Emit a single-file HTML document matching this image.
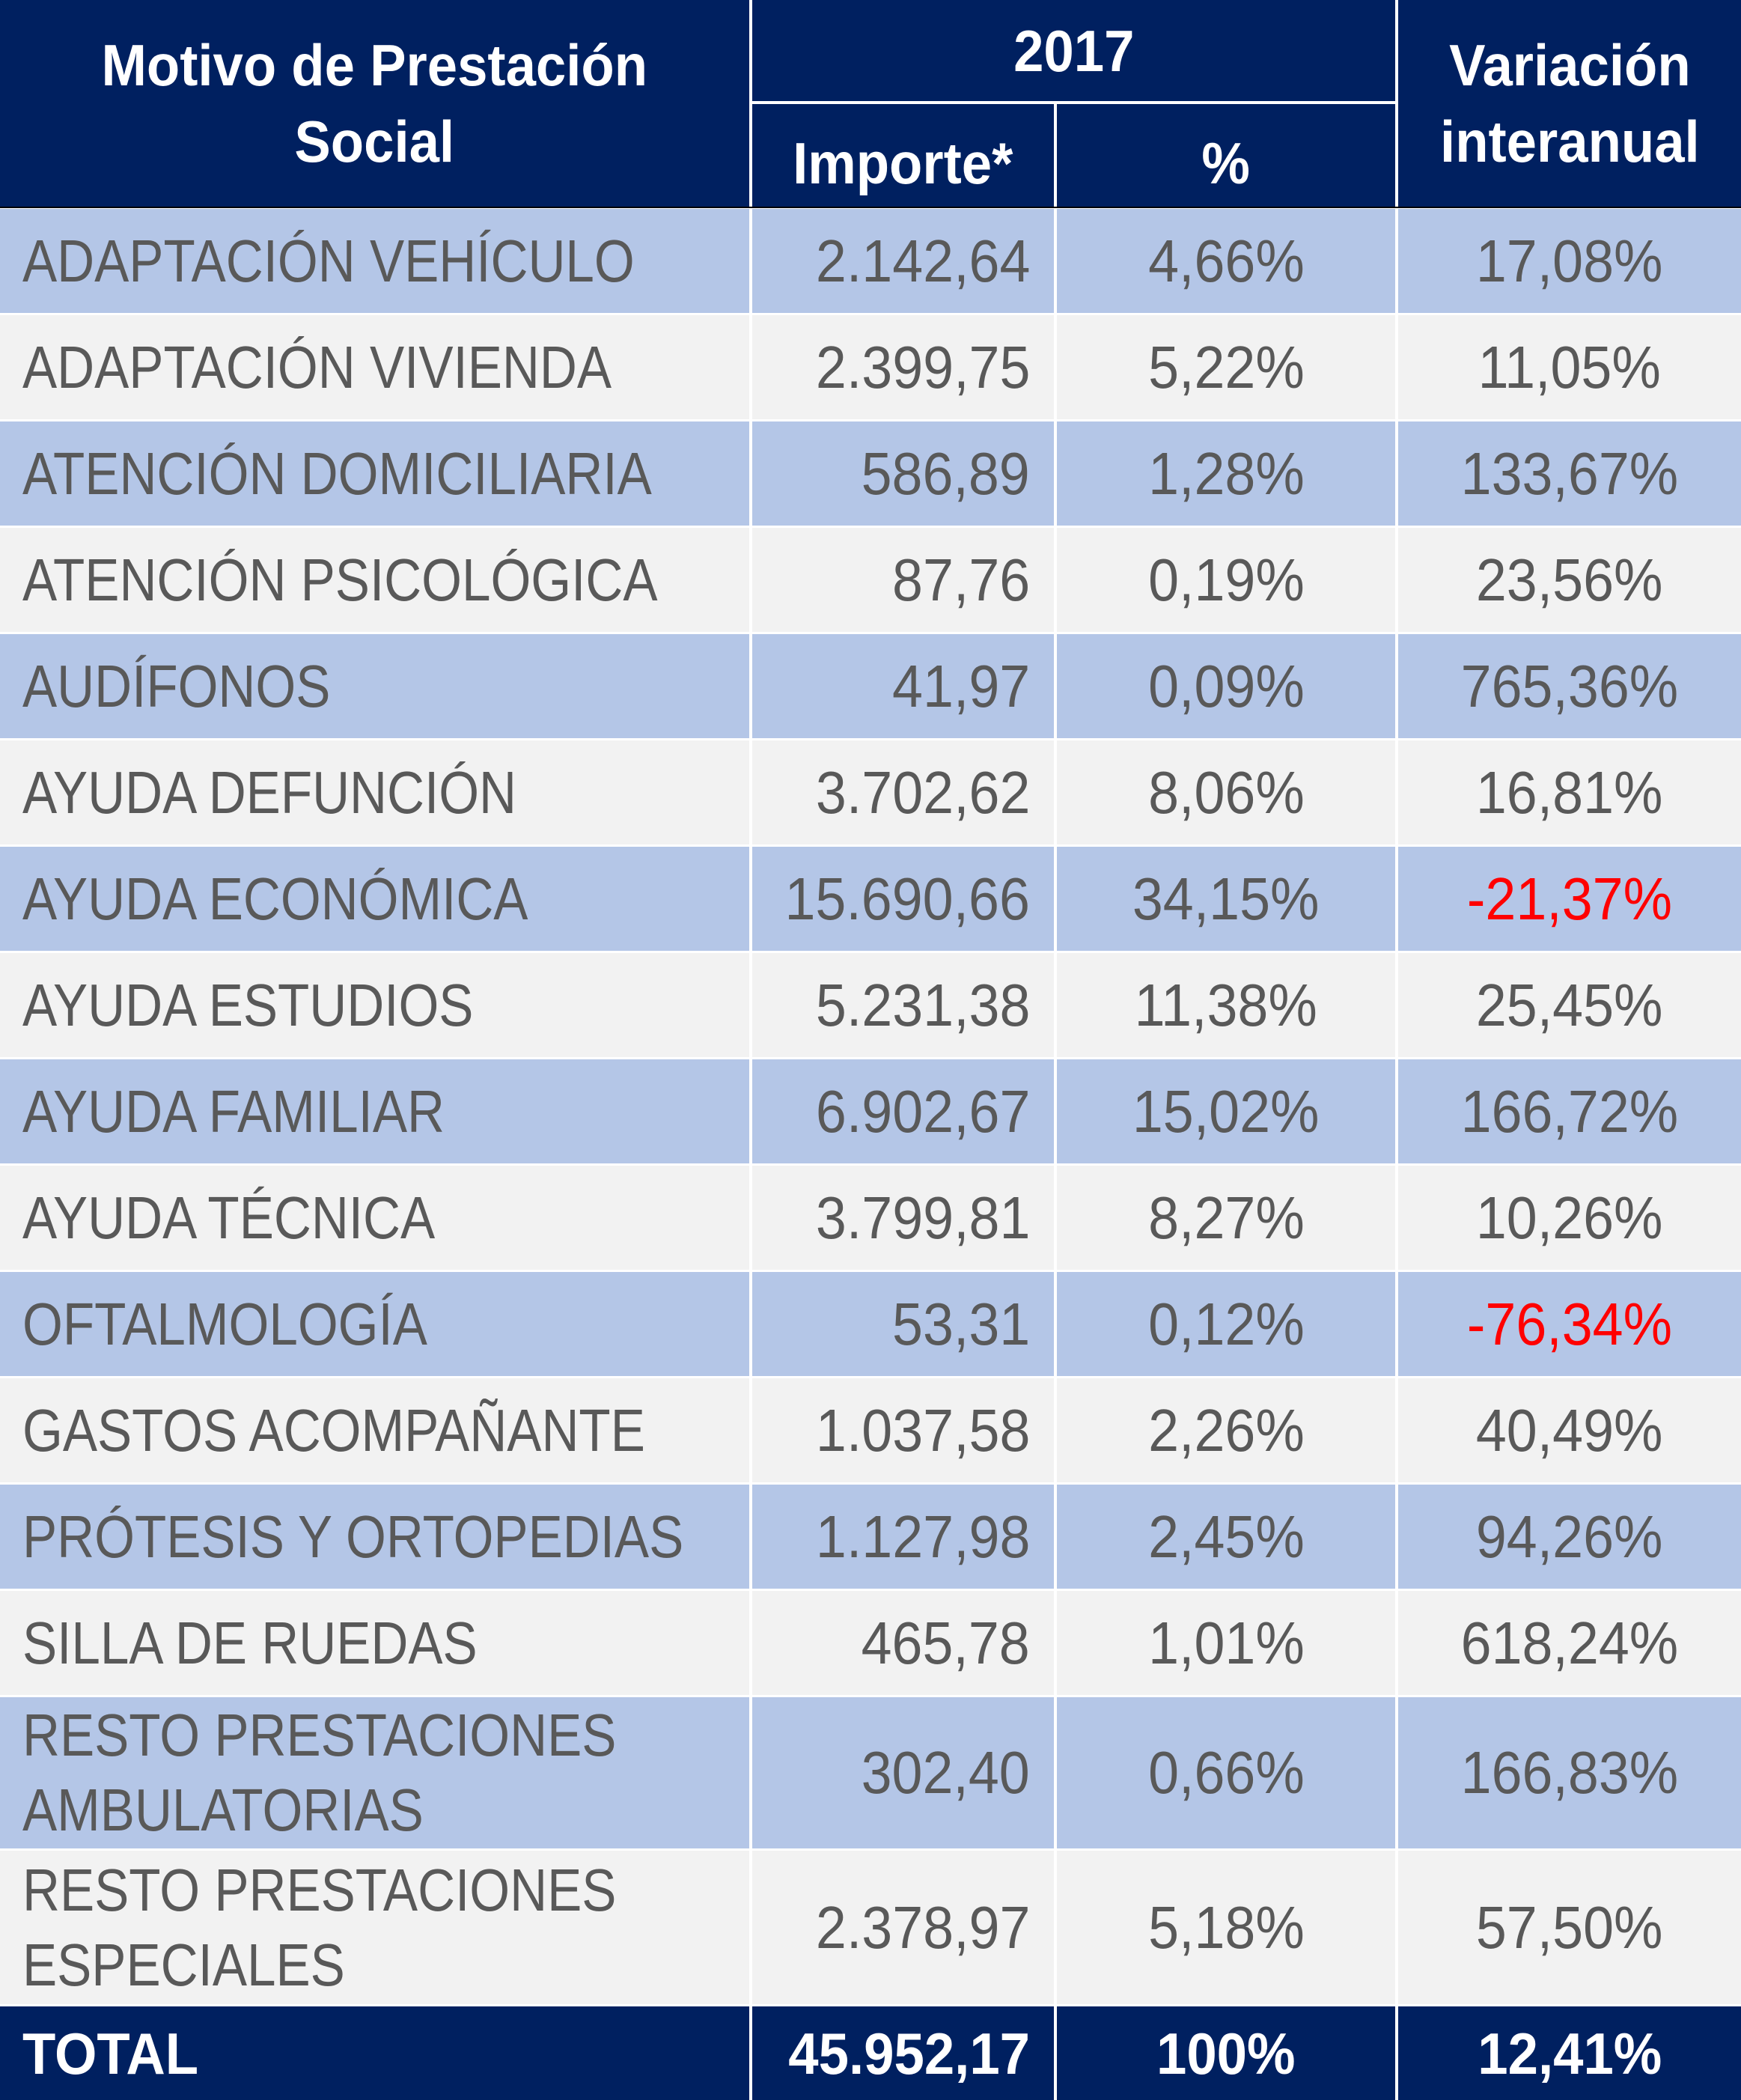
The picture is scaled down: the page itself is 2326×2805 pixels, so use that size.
<!DOCTYPE html>
<html><head><meta charset="utf-8"><style>
body{margin:0;width:2326px;height:2805px;background:#fff;position:relative;overflow:hidden;font-family:"Liberation Sans",sans-serif}
.c{position:absolute;display:flex;align-items:center;box-sizing:border-box;color:#595959;font-size:80px;line-height:100px;white-space:nowrap}
.c span{display:inline-block;transform:scaleX(.92)}
.l span{transform:scaleX(.865)}
.l{justify-content:flex-start;padding-left:30px}.l span{transform-origin:left center}
.r{justify-content:flex-end;padding-right:32px}.r span{transform-origin:right center}
.m{justify-content:center;text-align:center}.m span{transform-origin:center center}
.b{background:#b4c6e7}.g{background:#f2f2f2}
.h{background:#002060;color:#fff;font-weight:bold;font-size:78px}
.h span,.h.l span{transform:scaleX(.93)}
.red{color:#ff0000}
</style></head><body>
<div class="c h m" style="left:0;top:0;width:1001px;height:276px;line-height:102px"><span>Motivo de Prestación<br>Social</span></div>
<div class="c h m" style="left:1005px;top:0;width:859px;height:135px"><span>2017</span></div>
<div class="c h m" style="left:1005px;top:139px;width:403px;height:137px;padding-top:20px"><span>Importe*</span></div>
<div class="c h m" style="left:1412px;top:139px;width:452px;height:137px;padding-top:20px"><span>%</span></div>
<div class="c h m" style="left:1868px;top:0;width:458px;height:276px;line-height:102px"><span>Variación<br>interanual</span></div>
<div style="position:absolute;left:0;top:276px;width:2326px;height:2px;background:#000"></div>

<div class="c b l" style="left:0;top:279px;width:1001px;height:139px"><span>ADAPTACIÓN VEHÍCULO</span></div>
<div class="c b r" style="left:1005px;top:279px;width:403px;height:139px"><span>2.142,64</span></div>
<div class="c b m" style="left:1412px;top:279px;width:452px;height:139px"><span>4,66%</span></div>
<div class="c b m" style="left:1868px;top:279px;width:458px;height:139px"><span>17,08%</span></div>

<div class="c g l" style="left:0;top:421px;width:1001px;height:139px"><span>ADAPTACIÓN VIVIENDA</span></div>
<div class="c g r" style="left:1005px;top:421px;width:403px;height:139px"><span>2.399,75</span></div>
<div class="c g m" style="left:1412px;top:421px;width:452px;height:139px"><span>5,22%</span></div>
<div class="c g m" style="left:1868px;top:421px;width:458px;height:139px"><span>11,05%</span></div>

<div class="c b l" style="left:0;top:563px;width:1001px;height:139px"><span>ATENCIÓN DOMICILIARIA</span></div>
<div class="c b r" style="left:1005px;top:563px;width:403px;height:139px"><span>586,89</span></div>
<div class="c b m" style="left:1412px;top:563px;width:452px;height:139px"><span>1,28%</span></div>
<div class="c b m" style="left:1868px;top:563px;width:458px;height:139px"><span>133,67%</span></div>

<div class="c g l" style="left:0;top:705px;width:1001px;height:139px"><span>ATENCIÓN PSICOLÓGICA</span></div>
<div class="c g r" style="left:1005px;top:705px;width:403px;height:139px"><span>87,76</span></div>
<div class="c g m" style="left:1412px;top:705px;width:452px;height:139px"><span>0,19%</span></div>
<div class="c g m" style="left:1868px;top:705px;width:458px;height:139px"><span>23,56%</span></div>

<div class="c b l" style="left:0;top:847px;width:1001px;height:139px"><span>AUDÍFONOS</span></div>
<div class="c b r" style="left:1005px;top:847px;width:403px;height:139px"><span>41,97</span></div>
<div class="c b m" style="left:1412px;top:847px;width:452px;height:139px"><span>0,09%</span></div>
<div class="c b m" style="left:1868px;top:847px;width:458px;height:139px"><span>765,36%</span></div>

<div class="c g l" style="left:0;top:989px;width:1001px;height:139px"><span>AYUDA DEFUNCIÓN</span></div>
<div class="c g r" style="left:1005px;top:989px;width:403px;height:139px"><span>3.702,62</span></div>
<div class="c g m" style="left:1412px;top:989px;width:452px;height:139px"><span>8,06%</span></div>
<div class="c g m" style="left:1868px;top:989px;width:458px;height:139px"><span>16,81%</span></div>

<div class="c b l" style="left:0;top:1131px;width:1001px;height:139px"><span>AYUDA ECONÓMICA</span></div>
<div class="c b r" style="left:1005px;top:1131px;width:403px;height:139px"><span>15.690,66</span></div>
<div class="c b m" style="left:1412px;top:1131px;width:452px;height:139px"><span>34,15%</span></div>
<div class="c b m red" style="left:1868px;top:1131px;width:458px;height:139px"><span>-21,37%</span></div>

<div class="c g l" style="left:0;top:1273px;width:1001px;height:139px"><span>AYUDA ESTUDIOS</span></div>
<div class="c g r" style="left:1005px;top:1273px;width:403px;height:139px"><span>5.231,38</span></div>
<div class="c g m" style="left:1412px;top:1273px;width:452px;height:139px"><span>11,38%</span></div>
<div class="c g m" style="left:1868px;top:1273px;width:458px;height:139px"><span>25,45%</span></div>

<div class="c b l" style="left:0;top:1415px;width:1001px;height:139px"><span>AYUDA FAMILIAR</span></div>
<div class="c b r" style="left:1005px;top:1415px;width:403px;height:139px"><span>6.902,67</span></div>
<div class="c b m" style="left:1412px;top:1415px;width:452px;height:139px"><span>15,02%</span></div>
<div class="c b m" style="left:1868px;top:1415px;width:458px;height:139px"><span>166,72%</span></div>

<div class="c g l" style="left:0;top:1557px;width:1001px;height:139px"><span>AYUDA TÉCNICA</span></div>
<div class="c g r" style="left:1005px;top:1557px;width:403px;height:139px"><span>3.799,81</span></div>
<div class="c g m" style="left:1412px;top:1557px;width:452px;height:139px"><span>8,27%</span></div>
<div class="c g m" style="left:1868px;top:1557px;width:458px;height:139px"><span>10,26%</span></div>

<div class="c b l" style="left:0;top:1699px;width:1001px;height:139px"><span>OFTALMOLOGÍA</span></div>
<div class="c b r" style="left:1005px;top:1699px;width:403px;height:139px"><span>53,31</span></div>
<div class="c b m" style="left:1412px;top:1699px;width:452px;height:139px"><span>0,12%</span></div>
<div class="c b m red" style="left:1868px;top:1699px;width:458px;height:139px"><span>-76,34%</span></div>

<div class="c g l" style="left:0;top:1841px;width:1001px;height:139px"><span>GASTOS ACOMPAÑANTE</span></div>
<div class="c g r" style="left:1005px;top:1841px;width:403px;height:139px"><span>1.037,58</span></div>
<div class="c g m" style="left:1412px;top:1841px;width:452px;height:139px"><span>2,26%</span></div>
<div class="c g m" style="left:1868px;top:1841px;width:458px;height:139px"><span>40,49%</span></div>

<div class="c b l" style="left:0;top:1983px;width:1001px;height:139px"><span>PRÓTESIS Y ORTOPEDIAS</span></div>
<div class="c b r" style="left:1005px;top:1983px;width:403px;height:139px"><span>1.127,98</span></div>
<div class="c b m" style="left:1412px;top:1983px;width:452px;height:139px"><span>2,45%</span></div>
<div class="c b m" style="left:1868px;top:1983px;width:458px;height:139px"><span>94,26%</span></div>

<div class="c g l" style="left:0;top:2125px;width:1001px;height:139px"><span>SILLA DE RUEDAS</span></div>
<div class="c g r" style="left:1005px;top:2125px;width:403px;height:139px"><span>465,78</span></div>
<div class="c g m" style="left:1412px;top:2125px;width:452px;height:139px"><span>1,01%</span></div>
<div class="c g m" style="left:1868px;top:2125px;width:458px;height:139px"><span>618,24%</span></div>

<div class="c b l" style="left:0;top:2267px;width:1001px;height:202px"><span>RESTO PRESTACIONES<br>AMBULATORIAS</span></div>
<div class="c b r" style="left:1005px;top:2267px;width:403px;height:202px"><span>302,40</span></div>
<div class="c b m" style="left:1412px;top:2267px;width:452px;height:202px"><span>0,66%</span></div>
<div class="c b m" style="left:1868px;top:2267px;width:458px;height:202px"><span>166,83%</span></div>

<div class="c g l" style="left:0;top:2472px;width:1001px;height:205px"><span>RESTO PRESTACIONES<br>ESPECIALES</span></div>
<div class="c g r" style="left:1005px;top:2472px;width:403px;height:205px"><span>2.378,97</span></div>
<div class="c g m" style="left:1412px;top:2472px;width:452px;height:205px"><span>5,18%</span></div>
<div class="c g m" style="left:1868px;top:2472px;width:458px;height:205px"><span>57,50%</span></div>

<div class="c h l" style="left:0;top:2680px;width:1001px;height:125px"><span>TOTAL</span></div>
<div class="c h r" style="left:1005px;top:2680px;width:403px;height:125px"><span>45.952,17</span></div>
<div class="c h m" style="left:1412px;top:2680px;width:452px;height:125px"><span>100%</span></div>
<div class="c h m" style="left:1868px;top:2680px;width:458px;height:125px"><span>12,41%</span></div>
</body></html>
